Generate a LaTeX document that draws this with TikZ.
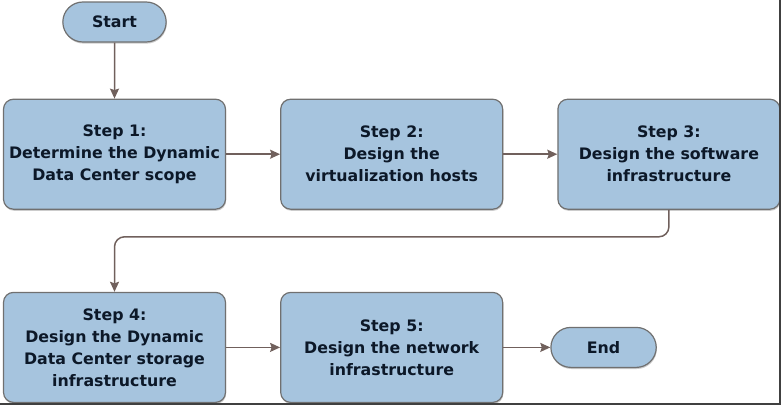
\documentclass[tikz,border=0pt]{standalone}
\usepackage{fontspec}
\setmainfont{DejaVu Sans}
\usetikzlibrary{arrows.meta,positioning,shapes.misc,shadows}
\definecolor{boxblue}{RGB}{166,196,222}
\definecolor{boxline}{RGB}{112,112,112}
\definecolor{arrowbrown}{RGB}{112,96,92}
\definecolor{textnavy}{RGB}{12,24,40}
\tikzset{
  >={Stealth[length=10pt,width=9pt,inset=1.5pt]},
  boxshadow/.style={drop shadow={shadow xshift=0.6pt, shadow yshift=-1.6pt, fill=black!40}},
  lbl/.style={font=\fontsize{15.8}{22}\selectfont\bfseries, text=textnavy, align=center}
}

\begin{document}
\begin{tikzpicture}[x=1pt, y=-1pt, auto,
    stepbox/.style={rectangle, draw=boxline, line width=1.2pt, fill=boxblue, rounded corners=10pt,
      minimum width=222pt, minimum height=110pt, inner sep=2pt, lbl, boxshadow},
    terminal/.style={rounded rectangle, draw=boxline, line width=1.2pt, fill=boxblue,
      minimum width=110pt, minimum height=40pt, lbl, boxshadow},
    arrow/.style={->, line width=1.5pt, draw=arrowbrown}]
    \useasboundingbox (0,0) rectangle (784,407);

    \node[terminal] (start) at (114.5,22) {Start};
    \node[stepbox, below=56pt of start] (scope) {Step 1:\\Determine the Dynamic\\Data Center scope};
    \node[stepbox, right=54pt of scope] (hosts) {Step 2:\\Design the\\virtualization hosts};
    \node[stepbox, right=54pt of hosts] (software) {Step 3:\\Design the software\\infrastructure};
    \node[stepbox, below=82pt of scope] (storage) {Step 4:\\Design the Dynamic\\Data Center storage\\infrastructure};
    \node[stepbox, right=54pt of storage] (network) {Step 5:\\Design the network\\infrastructure};
    \node[terminal, right=47pt of network, minimum width=112pt] (end) {End};

    \draw[arrow] (start) -- (scope);
    \draw[arrow] (scope) -- (hosts);
    \draw[arrow] (hosts) -- (software);
    \draw[arrow, rounded corners=10pt] (software.south) -- ++(0,27) -| (storage.north);
    \draw[arrow] (storage) -- (network);
    \draw[arrow] (network) -- (end);

    % frame of the picture
    \draw[line width=1.6pt, black!75] (780,0) -- (780,404) -- (0,404);
  \end{tikzpicture}
\end{document}
